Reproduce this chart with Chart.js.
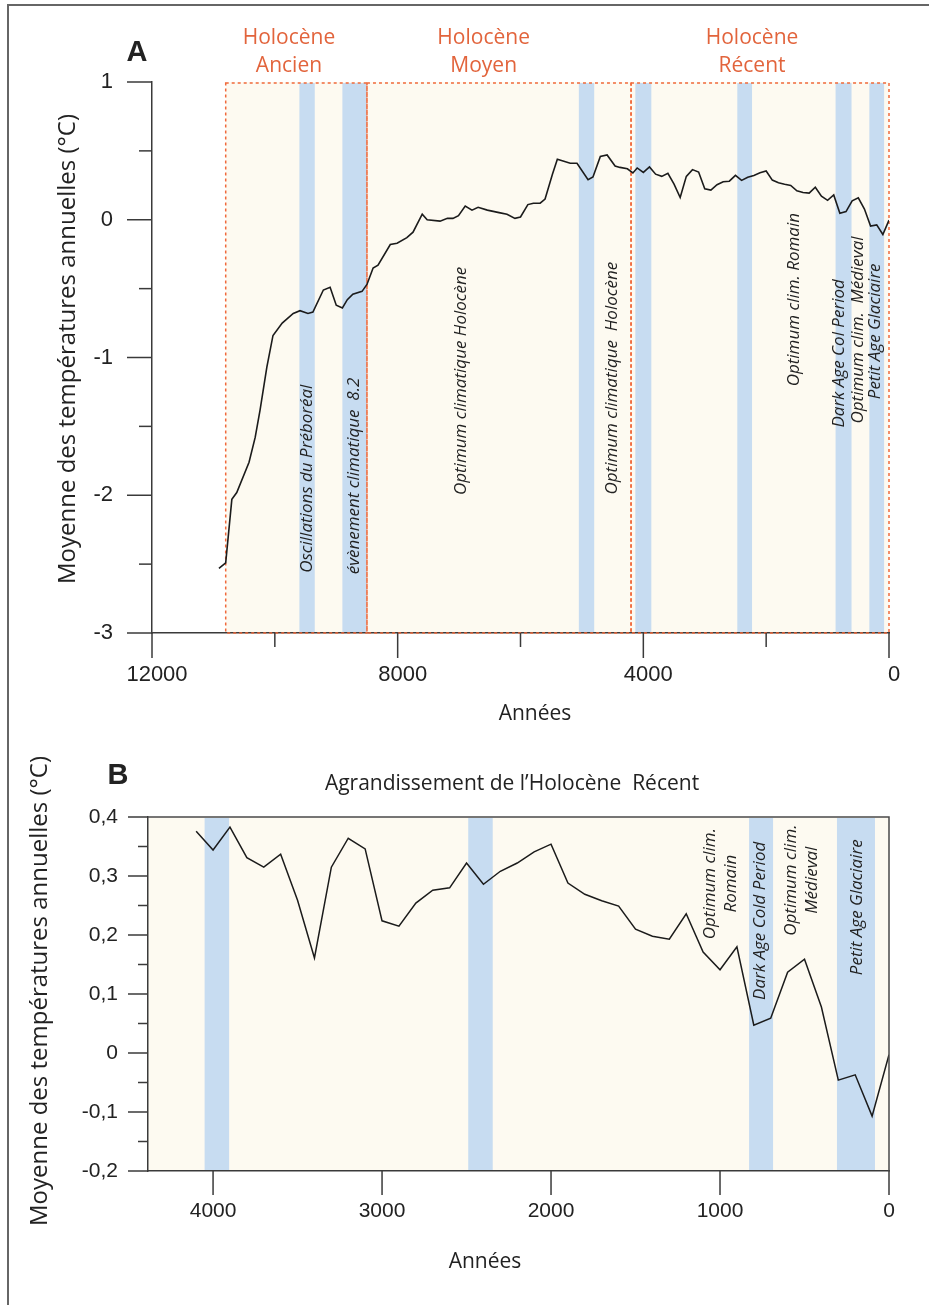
<!DOCTYPE html>
<html>
<head>
<meta charset="utf-8">
<script src="https://cdn.jsdelivr.net/npm/chart.js@4.4.1/dist/chart.umd.min.js"></script>
<style>
  body { margin: 0; background: #fff; }
  #frame { position: absolute; left: 7px; top: 4px; width: 930px; height: 1310px; border-left: 2px solid #666; border-top: 2px solid #666; }
  canvas { position: absolute; left: 0; }
  #chartA { top: 0; }
  #chartB { top: 740px; }
</style>
</head>
<body>
<div id="frame"></div>
<canvas id="chartA" width="929" height="740"></canvas>
<canvas id="chartB" width="929" height="565"></canvas>
<script>
// early Holocene part of curve A (years BP, degC)
const yearsEarly = [10910, 10800, 10700, 10620, 10420, 10320, 10240, 10130, 10030, 9880, 9700, 9590, 9460, 9380, 9210, 9100, 9000, 8900, 8820, 8730, 8580, 8500, 8400, 8320, 8120, 8010, 7850, 7750, 7600, 7520, 7310, 7190, 7100, 7010, 6900, 6790, 6690, 6540, 6330, 6220, 6090, 6000, 5880, 5790, 5680, 5600, 5480, 5400, 5190, 5080, 4900, 4820, 4700, 4590, 4460, 4380, 4260, 4170];
const tempsEarly = [-2.53, -2.49, -2.03, -1.98, -1.76, -1.58, -1.38, -1.07, -0.84, -0.75, -0.68, -0.66, -0.68, -0.67, -0.51, -0.49, -0.62, -0.64, -0.58, -0.54, -0.52, -0.47, -0.35, -0.33, -0.18, -0.17, -0.13, -0.09, 0.04, 0.00, -0.01, 0.01, 0.01, 0.03, 0.10, 0.07, 0.09, 0.07, 0.05, 0.04, 0.01, 0.02, 0.11, 0.12, 0.12, 0.15, 0.33, 0.44, 0.41, 0.41, 0.29, 0.31, 0.46, 0.47, 0.39, 0.38, 0.37, 0.34];

// late Holocene (zoom B, also the end of curve A)
const yearsRecent = [4100, 4000, 3900, 3800, 3700, 3600, 3500, 3400, 3300, 3200, 3100, 3000, 2900, 2800, 2700, 2600, 2500, 2400, 2300, 2200, 2100, 2000, 1900, 1800, 1700, 1600, 1500, 1400, 1300, 1200, 1100, 1000, 900, 800, 700, 600, 500, 400, 300, 200, 100, 0];
const tempsRecent = [0.376, 0.344, 0.383, 0.331, 0.315, 0.337, 0.259, 0.161, 0.315, 0.364, 0.346, 0.224, 0.215, 0.254, 0.276, 0.280, 0.322, 0.286, 0.308, 0.322, 0.341, 0.354, 0.288, 0.269, 0.258, 0.249, 0.210, 0.198, 0.193, 0.236, 0.171, 0.141, 0.180, 0.047, 0.059, 0.137, 0.159, 0.078, -0.046, -0.037, -0.107, -0.003];

const yearsA = yearsEarly.concat(yearsRecent);
const tempsA = tempsEarly.concat(tempsRecent);

// periods (years BP)
const periodNames = [['Holocène', 'Ancien'], ['Holocène', 'Moyen'], ['Holocène', 'Récent']];
const periodFrom = [10800, 8500, 4200];
const periodTo = [8500, 4200, 0];
const periodLabelYear = [9770, 6600, 2230];

// cold events (blue bands)
const bandsA = [[9600, 9350], [8900, 8500], [5050, 4800], [4130, 3870], [2470, 2230], [870, 610], [320, 80]];
const bandsB = [[4050, 3905], [2490, 2345], [828, 686], [308, 83]];

// rotated notes: text lines, year, temperature
const notesA = [
  { text: ['Oscillations du Préboréal'], year: 9475, t: -1.88 },
  { text: ['évènement climatique  8.2'], year: 8710, t: -1.86 },
  { text: ['Optimum climatique Holocène'], year: 6966, t: -1.17 },
  { text: ['Optimum climatique  Holocène'], year: 4507, t: -1.15 },
  { text: ['Optimum clim. Romain'], year: 1542, t: -0.58 },
  { text: ['Dark Age Col Period'], year: 809, t: -0.97 },
  { text: ['Optimum clim.  Médieval'], year: 499, t: -0.80 },
  { text: ['Petit Age Glaciaire'], year: 222, t: -0.81 }
];
const notesB = [
  { text: ['Optimum clim.', 'Romain'], year: 994, t: 0.287 },
  { text: ['Dark Age Cold Period'], year: 763, t: 0.224 },
  { text: ['Optimum clim.', 'Médieval'], year: 515, t: 0.293 },
  { text: ['Petit Age Glaciaire'], year: 189, t: 0.247 }
];

const ticksAx = [12000, 8000, 4000, 0], minorAx = [10000, 6000, 2000];
const ticksAy = [1, 0, -1, -2, -3], minorAy = [0.5, -0.5, -1.5, -2.5];
const ticksBx = [4000, 3000, 2000, 1000, 0];
const ticksBy = [0.4, 0.3, 0.2, 0.1, 0, -0.1, -0.2], minorBy = [0.35, 0.25, 0.15, 0.05, -0.05, -0.15];

const BEIGE = '#fdfaf1', BLUE = '#c7dcf1', ORANGE = '#e2643c', INK = '#222';
const yTitle = 'Moyenne des températures annuelles (°C)';

function tickMarks(ctx, scale, values, len) {
  ctx.save();
  ctx.strokeStyle = '#3a3a3a';
  ctx.lineWidth = 1.5;
  values.forEach(v => {
    const p = scale.getPixelForValue(v);
    ctx.beginPath();
    if (scale.isHorizontal()) { ctx.moveTo(p, scale.top); ctx.lineTo(p, scale.top + len); }
    else { ctx.moveTo(scale.right, p); ctx.lineTo(scale.right - len, p); }
    ctx.stroke();
  });
  ctx.restore();
}

function vText(ctx, lines, x, y, font, gap) {
  ctx.save();
  ctx.translate(x, y);
  ctx.rotate(-Math.PI / 2);
  ctx.font = font;
  ctx.fillStyle = INK;
  ctx.textAlign = 'center';
  ctx.textBaseline = 'middle';
  const n = lines.length;
  lines.forEach((l, i) => ctx.fillText(l, 0, (i - (n - 1) / 2) * gap));
  ctx.restore();
}

function text(ctx, s, x, y, font, color) {
  ctx.save();
  ctx.font = font;
  ctx.fillStyle = color || INK;
  ctx.textAlign = 'center';
  ctx.textBaseline = 'middle';
  ctx.fillText(s, x, y);
  ctx.restore();
}

function fillBands(chart, bands) {
  const { ctx, chartArea: ca, scales: { x } } = chart;
  ctx.fillStyle = BLUE;
  bands.forEach(b => {
    const x1 = x.getPixelForValue(b[0]), x2 = x.getPixelForValue(b[1]);
    ctx.fillRect(x1, ca.top + 1, x2 - x1, ca.bottom - ca.top - 1);
  });
}

const decorA = {
  id: 'decorA',
  beforeDraw(chart) {
    const { ctx, chartArea: ca, scales: { x } } = chart;
    ctx.save();
    const x0 = x.getPixelForValue(periodFrom[0]), x1 = x.getPixelForValue(0);
    ctx.fillStyle = BEIGE;
    ctx.fillRect(x0, ca.top, x1 - x0, ca.bottom - ca.top);
    fillBands(chart, bandsA);
    ctx.restore();
  },
  beforeDatasetsDraw(chart) {
    const { ctx, chartArea: ca, scales: { x, y } } = chart;
    ctx.save();
    ctx.strokeStyle = '#f0693b';
    ctx.lineWidth = 1.5;
    ctx.setLineDash([3, 3]);
    periodFrom.forEach((f, i) => {
      const a = x.getPixelForValue(f), b = x.getPixelForValue(periodTo[i]);
      ctx.strokeRect(a, ca.top + 1, b - a, ca.bottom - ca.top - 1);
    });
    ctx.restore();
    notesA.forEach(n => vText(ctx, n.text, x.getPixelForValue(n.year), y.getPixelForValue(n.t), 'italic 17px "Open Sans"', 18));
  },
  afterDraw(chart) {
    const { ctx, scales: { x, y } } = chart;
    tickMarks(ctx, x, ticksAx, 25);
    tickMarks(ctx, x, minorAx, 14);
    tickMarks(ctx, y, ticksAy, 25);
    tickMarks(ctx, y, minorAy, 13);
    periodNames.forEach((lines, i) => {
      const px = x.getPixelForValue(periodLabelYear[i]);
      text(ctx, lines[0], px, 38, '21px "Open Sans"', ORANGE);
      text(ctx, lines[1], px, 66, '21px "Open Sans"', ORANGE);
    });
    text(ctx, 'A', 137, 53, 'bold 29px "Liberation Sans"');
    text(ctx, 'Années', 535, 714, '21px "Open Sans"');
    vText(ctx, [yTitle], 68, 349, '24px "Open Sans"', 0);
  }
};

const decorB = {
  id: 'decorB',
  beforeDraw(chart) {
    const { ctx, chartArea: ca } = chart;
    ctx.save();
    ctx.fillStyle = BEIGE;
    ctx.fillRect(ca.left, ca.top, ca.right - ca.left, ca.bottom - ca.top);
    fillBands(chart, bandsB);
    ctx.restore();
  },
  beforeDatasetsDraw(chart) {
    const { ctx, scales: { x, y } } = chart;
    notesB.forEach(n => vText(ctx, n.text, x.getPixelForValue(n.year), y.getPixelForValue(n.t), 'italic 17px "Open Sans"', 21));
  },
  afterDraw(chart) {
    const { ctx, chartArea: ca, scales: { x, y } } = chart;
    ctx.save();
    ctx.strokeStyle = '#4a4a4a';
    ctx.lineWidth = 1.5;
    ctx.beginPath();
    ctx.moveTo(ca.left, ca.top);
    ctx.lineTo(ca.right, ca.top);
    ctx.lineTo(ca.right, ca.bottom);
    ctx.stroke();
    ctx.restore();
    tickMarks(ctx, x, ticksBx, 24);
    tickMarks(ctx, y, ticksBy, 20);
    tickMarks(ctx, y, minorBy, 10);
    text(ctx, 'B', 118, 36, 'bold 29px "Liberation Sans"');
    text(ctx, 'Agrandissement de l’Holocène  Récent', 512, 44, '21px "Open Sans"');
    text(ctx, 'Années', 485, 522, '21px "Open Sans"');
    vText(ctx, [yTitle], 40, 251, '24px "Open Sans"', 0);
  }
};

const tickFont = { family: 'Liberation Sans', size: 22 };
const axisBorder = { display: true, color: '#3a3a3a', width: 1.5 };
const setTicks = vals => s => { s.ticks = vals.map(v => ({ value: v })); };

new Chart(document.getElementById('chartA'), {
  type: 'line',
  data: {
    datasets: [{
      data: yearsA.map((yr, i) => ({ x: yr, y: tempsA[i] })),
      borderColor: '#1b1b1b',
      borderWidth: 1.6,
      pointRadius: 0,
      tension: 0
    }]
  },
  options: {
    responsive: false,
    animation: false,
    layout: { padding: { top: 82, right: 40, left: 0, bottom: 0 } },
    plugins: { legend: { display: false }, tooltip: { enabled: false } },
    scales: {
      x: {
        type: 'linear', reverse: true, min: 0, max: 12000,
        grid: { display: false, drawTicks: false },
        border: axisBorder,
        afterBuildTicks: setTicks(ticksAx),
        ticks: { padding: 29, labelOffset: 5, font: tickFont, color: INK, maxRotation: 0, autoSkip: false, callback: v => String(v) },
        afterFit: s => { s.height = 107; }
      },
      y: {
        min: -3, max: 1,
        grid: { display: false, drawTicks: false },
        border: axisBorder,
        afterBuildTicks: setTicks(ticksAy),
        ticks: { padding: 39, font: tickFont, color: INK, callback: v => String(v) },
        afterFit: s => { s.width = 152; }
      }
    }
  },
  plugins: [decorA]
});

new Chart(document.getElementById('chartB'), {
  type: 'line',
  data: {
    datasets: [{
      data: yearsRecent.map((yr, i) => ({ x: yr, y: tempsRecent[i] })),
      borderColor: '#1b1b1b',
      borderWidth: 1.5,
      pointRadius: 0,
      tension: 0
    }]
  },
  options: {
    responsive: false,
    animation: false,
    layout: { padding: { top: 77, right: 40, left: 0, bottom: 0 } },
    plugins: { legend: { display: false }, tooltip: { enabled: false } },
    scales: {
      x: {
        type: 'linear', reverse: true, min: 0, max: 4385,
        grid: { display: false, drawTicks: false },
        border: axisBorder,
        afterBuildTicks: setTicks(ticksBx),
        ticks: { padding: 28, font: { family: 'Liberation Sans', size: 21 }, color: INK, maxRotation: 0, autoSkip: false,
          callback: v => String(v) },
        afterFit: s => { s.height = 134; }
      },
      y: {
        min: -0.2, max: 0.4,
        grid: { display: false, drawTicks: false },
        border: axisBorder,
        afterBuildTicks: setTicks(ticksBy),
        ticks: { padding: 30, font: { family: 'Liberation Sans', size: 21 }, color: INK,
          callback: v => (Math.abs(v) < 1e-9 ? '0' : v.toFixed(1).replace('.', ',')) },
        afterFit: s => { s.width = 148; }
      }
    }
  },
  plugins: [decorB]
});
</script>
</body>
</html>
